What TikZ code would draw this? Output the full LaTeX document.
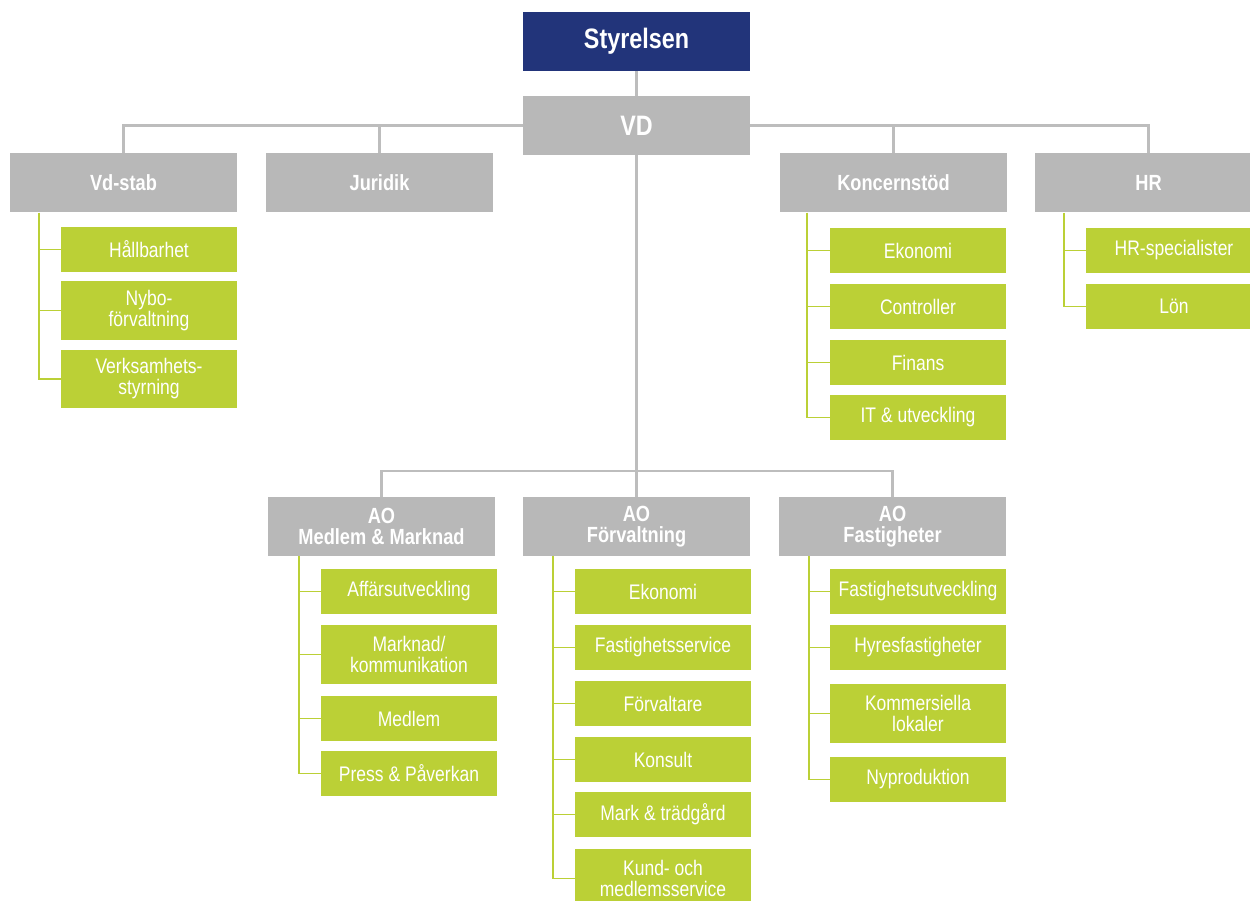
\documentclass[tikz,border=0pt]{standalone}
\usepackage{fontspec}
\setmainfont{Liberation Sans}[FakeStretch=0.83]
\definecolor{styrblue}{HTML}{22347A}
\definecolor{headgray}{HTML}{B8B8B8}
\definecolor{linegray}{HTML}{BDBDBD}
\definecolor{unitgreen}{HTML}{BBD036}
\begin{document}
\begin{tikzpicture}[x=0.02cm,y=-0.02cm,
    topbox/.style={fill=styrblue,text=white,font=\bfseries\fontsize{16}{18}\selectfont,
      minimum width=4.54cm,minimum height=1.18cm,inner sep=0pt},
    headbox/.style={fill=headgray,text=white,font=\bfseries\fontsize{12.5}{12}\selectfont,
      align=center,minimum width=4.54cm,minimum height=1.18cm,inner sep=0pt},
    vdbox/.style={headbox,font=\bfseries\fontsize{16}{18}\selectfont},
    unitbox/.style={fill=unitgreen,text=white,font=\fontsize{12}{12}\selectfont,
      align=center,minimum width=3.52cm,minimum height=0.9cm,inner sep=0pt},
    tallbox/.style={unitbox,minimum height=1.18cm},
    busline/.style={draw=linegray,line width=1.7pt},
    twigline/.style={draw=unitgreen,line width=1.1pt}]
  \useasboundingbox (0,0) rectangle (1250,901);

  % Top
  \node[topbox] (styr) at (636.5,41.5) {Styrelsen};
  \node[vdbox] (vd) at (636.5,125.5) {VD};

  % Staff row
  \node[headbox] (vdstab) at (123.5,183) {Vd-stab};
  \node[headbox] (juridik) at (379.5,183) {Juridik};
  \node[headbox] (koncern) at (893.5,183) {Koncernstöd};
  \node[headbox] (hr) at (1148.5,183) {HR};

  % Business areas
  \coordinate (aobus) at (636.5,471);
  \node[headbox] (aomm) at (381.5,526.5) {AO\\Medlem \& Marknad};
  \node[headbox] (aoforv) at (636.5,526.5) {AO\\Förvaltning};
  \node[headbox] (aofast) at (892.5,526.5) {AO\\Fastigheter};

  % Vd-stab units
  \node[unitbox] (hall) at (149,249.5) {Hållbarhet};
  \node[tallbox] (nybo) at (149,310.5) {Nybo-\\förvaltning};
  \node[tallbox] (verks) at (149,379) {Verksamhets-\\styrning};

  % Koncernstöd units
  \node[unitbox] (ekon) at (918,250.5) {Ekonomi};
  \node[unitbox] (contr) at (918,306.5) {Controller};
  \node[unitbox] (finans) at (918,362.5) {Finans};
  \node[unitbox] (itutv) at (918,417.5) {IT \& utveckling};

  % HR units
  \node[unitbox] (hrspec) at (1174,250.5) {HR-specialister};
  \node[unitbox] (lon) at (1174,306.5) {Lön};

  % AO Medlem & Marknad units
  \node[unitbox] (affutv) at (409,591.5) {Affärsutveckling};
  \node[tallbox] (markn) at (409,654.5) {Marknad/\\kommunikation};
  \node[unitbox] (medlem) at (409,718.5) {Medlem};
  \node[unitbox] (press) at (409,773.5) {Press \& Påverkan};

  % AO Förvaltning units
  \node[unitbox] (fekon) at (663,591.5) {Ekonomi};
  \node[unitbox] (fserv) at (663,647.5) {Fastighetsservice};
  \node[unitbox] (forvr) at (663,703.5) {Förvaltare};
  \node[unitbox] (konsult) at (663,759.5) {Konsult};
  \node[unitbox] (mark) at (663,814.5) {Mark \& trädgård};
  \node[tallbox] (kund) at (663,878.5) {Kund- och\\medlemsservice};

  % AO Fastigheter units
  \node[unitbox] (futv) at (918,591.5) {Fastighetsutveckling};
  \node[unitbox] (hyres) at (918,647.5) {Hyresfastigheter};
  \node[tallbox] (komm) at (918,713.5) {Kommersiella\\lokaler};
  \node[unitbox] (nyprod) at (918,779.5) {Nyproduktion};

  % Gray lines
  \draw[busline] (styr.south) -- (vd.north);
  \draw[busline] (vd.west) -| (vdstab.north);
  \draw[busline] (vd.west) -| (juridik.north);
  \draw[busline] (vd.east) -| (koncern.north);
  \draw[busline] (vd.east) -| (hr.north);
  \draw[busline] (vd.south) -- (aoforv.north);
  \draw[busline] (aobus) -| (aomm.north);
  \draw[busline] (aobus) -| (aofast.north);

  % Green lines
  \foreach \u in {hall,nybo,verks}
    \draw[twigline] ([xshift=0.58cm]vdstab.south west) |- (\u.west);
  \foreach \u in {ekon,contr,finans,itutv}
    \draw[twigline] ([xshift=0.54cm]koncern.south west) |- (\u.west);
  \foreach \u in {hrspec,lon}
    \draw[twigline] ([xshift=0.58cm]hr.south west) |- (\u.west);
  \foreach \u in {affutv,markn,medlem,press}
    \draw[twigline] ([xshift=0.62cm]aomm.south west) |- (\u.west);
  \foreach \u in {fekon,fserv,forvr,konsult,mark,kund}
    \draw[twigline] ([xshift=0.6cm]aoforv.south west) |- (\u.west);
  \foreach \u in {futv,hyres,komm,nyprod}
    \draw[twigline] ([xshift=0.6cm]aofast.south west) |- (\u.west);
\end{tikzpicture}
\end{document}
